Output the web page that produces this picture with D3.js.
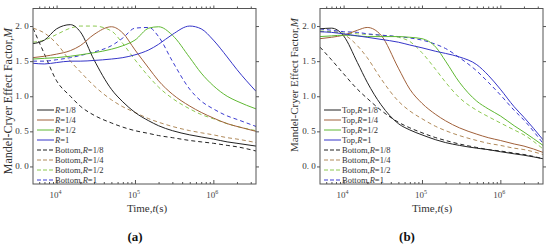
<!DOCTYPE html>
<html>
<head>
<meta charset="utf-8">
<script src="https://cdn.jsdelivr.net/npm/d3@7"></script>
<style>
  body { margin: 0; background: #fff; }
  svg { display: block; font-family: "Liberation Serif", "DejaVu Serif", serif; }
</style>
</head>
<body>
<div id="chart"></div>
<script>
// time points (s) shared by every curve
const times = [5e3, 7e3, 1e4, 1.5e4, 2e4, 3e4, 5e4, 7e4, 1e5, 1.5e5, 2e5, 3e5, 5e5, 7e5, 1e6, 1.5e6, 2e6, 3.5e6];

// panel (a)
const aR8  = [1.75, 1.80, 1.96, 2.02, 1.92, 1.52, 1.10, 0.92, 0.77, 0.65, 0.58, 0.51, 0.45, 0.42, 0.39, 0.35, 0.33, 0.29];
const aR4  = [1.55, 1.57, 1.60, 1.65, 1.72, 1.88, 1.99, 1.90, 1.66, 1.40, 1.22, 1.03, 0.86, 0.77, 0.69, 0.61, 0.57, 0.50];
const aR2  = [1.53, 1.54, 1.55, 1.57, 1.59, 1.62, 1.67, 1.72, 1.80, 1.97, 1.99, 1.87, 1.55, 1.33, 1.15, 1.00, 0.93, 0.82];
const aR1  = [1.47, 1.46, 1.48, 1.50, 1.50, 1.51, 1.53, 1.55, 1.59, 1.66, 1.74, 1.88, 2.00, 1.96, 1.80, 1.56, 1.38, 1.07];
const aB8  = [1.97, 1.60, 1.22, 1.00, 0.86, 0.73, 0.62, 0.56, 0.51, 0.47, 0.44, 0.41, 0.37, 0.35, 0.33, 0.30, 0.28, 0.22];
const aB4  = [1.97, 1.90, 1.75, 1.50, 1.35, 1.15, 0.95, 0.85, 0.77, 0.68, 0.63, 0.57, 0.51, 0.48, 0.45, 0.41, 0.39, 0.34];
const aB2  = [1.77, 1.80, 1.88, 1.97, 2.00, 2.00, 1.93, 1.75, 1.52, 1.28, 1.13, 0.97, 0.82, 0.74, 0.68, 0.61, 0.57, 0.51];
const aB1  = [1.50, 1.50, 1.52, 1.55, 1.58, 1.63, 1.72, 1.83, 1.97, 1.98, 1.85, 1.50, 1.10, 0.93, 0.82, 0.72, 0.67, 0.57];

// panel (b)
const bT8  = [1.96, 1.97, 1.86, 1.48, 1.20, 0.88, 0.61, 0.52, 0.45, 0.38, 0.34, 0.30, 0.26, 0.24, 0.21, 0.18, 0.16, 0.11];
const bT4  = [1.82, 1.84, 1.87, 1.94, 1.98, 1.87, 1.40, 1.10, 0.90, 0.74, 0.65, 0.55, 0.46, 0.41, 0.37, 0.32, 0.29, 0.20];
const bT2  = [1.85, 1.86, 1.87, 1.86, 1.85, 1.85, 1.85, 1.84, 1.82, 1.70, 1.50, 1.20, 0.93, 0.82, 0.72, 0.58, 0.49, 0.30];
const bT1  = [1.92, 1.91, 1.89, 1.86, 1.84, 1.81, 1.77, 1.73, 1.69, 1.64, 1.61, 1.56, 1.45, 1.30, 1.10, 0.85, 0.70, 0.38];
const bB8  = [1.70, 1.52, 1.32, 1.10, 0.97, 0.80, 0.63, 0.55, 0.48, 0.41, 0.37, 0.32, 0.27, 0.24, 0.22, 0.19, 0.17, 0.11];
const bB4  = [1.92, 1.92, 1.88, 1.72, 1.55, 1.25, 0.93, 0.79, 0.68, 0.57, 0.51, 0.44, 0.37, 0.33, 0.30, 0.26, 0.24, 0.17];
const bB2  = [1.93, 1.92, 1.90, 1.89, 1.88, 1.87, 1.84, 1.78, 1.62, 1.38, 1.20, 0.98, 0.80, 0.71, 0.62, 0.52, 0.45, 0.25];
const bB1  = [1.96, 1.94, 1.92, 1.91, 1.89, 1.87, 1.85, 1.83, 1.80, 1.74, 1.68, 1.55, 1.36, 1.20, 1.02, 0.80, 0.66, 0.33];

const rLabels = ["1/8", "1/4", "1/2", "1"];
const colors = ["#222222", "#a0603a", "#5fb832", "#3535c8"];
const dashColors = ["#222222", "#b08a5a", "#8cc850", "#3a3ad0"];
const yTicks = [0, 0.5, 1, 1.5, 2];
const yTickLabels = ["0. 0", "0. 5", "1. 0", "1. 5", "2. 0"];
const xMajor = [1e4, 1e5, 1e6];

const W = 550, H = 246;
const svg = d3.select("#chart").append("svg").attr("width", W).attr("height", H);
svg.append("rect").attr("width", W).attr("height", H).attr("fill", "#fff");

const panels = [
  { left: 33, right: 256, tag: "(a)", tagX: 135, yLabX: 12, yLabY: 101, yLabSize: 12, xLabX: 147,
    solid: [aR8, aR4, aR2, aR1], dashed: [aB8, aB4, aB2, aB1], prefix: "" },
  { left: 320, right: 543, tag: "(b)", tagX: 407, yLabX: 298, yLabY: 85, yLabSize: 11, xLabX: 432,
    solid: [bT8, bT4, bT2, bT1], dashed: [bB8, bB4, bB2, bB1], prefix: "Top," }
];

const plotTop = 8.5, plotBottom = 184;
const yScale = d3.scaleLinear().domain([-0.25, 2.25]).range([plotBottom, plotTop]);

panels.forEach(p => {
  const x = d3.scaleLog().domain([5000, 3.5e6]).range([p.left, p.right]);
  const y = yScale;
  const g = svg.append("g");

  const clipId = "clip" + p.left;
  g.append("clipPath").attr("id", clipId).append("rect")
    .attr("x", p.left).attr("y", plotTop).attr("width", p.right - p.left).attr("height", plotBottom - plotTop);

  const line = d3.line().x((d, i) => x(times[i])).y(d => y(d)).curve(d3.curveMonotoneX);
  const lines = g.append("g").attr("clip-path", "url(#" + clipId + ")");

  p.dashed.forEach((s, i) => {
    lines.append("path").attr("d", line(s)).attr("fill", "none")
      .attr("stroke", dashColors[i]).attr("stroke-width", 1).attr("stroke-dasharray", "4,3");
  });
  p.solid.forEach((s, i) => {
    lines.append("path").attr("d", line(s)).attr("fill", "none")
      .attr("stroke", colors[i]).attr("stroke-width", 1);
  });

  // minor ticks (log)
  const minor = [];
  [1e3, 1e4, 1e5, 1e6].forEach(dec => {
    for (let k = 2; k <= 9; k++) {
      const v = dec * k;
      if (v > 5000 && v < 3.5e6) minor.push(v);
    }
  });

  const axisColor = "#555";
  const xb = g.append("g").attr("transform", "translate(0," + plotBottom + ")")
    .call(d3.axisTop(x).tickValues(xMajor).tickSize(4).tickFormat(""));
  const xbm = g.append("g").attr("transform", "translate(0," + plotBottom + ")")
    .call(d3.axisTop(x).tickValues(minor).tickSize(2).tickFormat(""));
  const xt = g.append("g").attr("transform", "translate(0," + plotTop + ")")
    .call(d3.axisTop(x).tickValues(xMajor).tickSize(3).tickFormat(""));
  const xtm = g.append("g").attr("transform", "translate(0," + plotTop + ")")
    .call(d3.axisTop(x).tickValues(minor).tickSize(2).tickFormat(""));
  const yl = g.append("g").attr("transform", "translate(" + p.left + ",0)")
    .call(d3.axisLeft(y).tickValues(yTicks).tickSize(3).tickFormat(""));
  const yr = g.append("g").attr("transform", "translate(" + p.right + ",0)")
    .call(d3.axisRight(y).tickValues(yTicks).tickSize(3).tickFormat(""));

  [xb, xbm, xt, xtm, yl, yr].forEach(a => {
    a.select(".domain").remove();
    a.selectAll("line").attr("stroke", axisColor);
  });

  g.append("rect").attr("x", p.left).attr("y", plotTop)
    .attr("width", p.right - p.left).attr("height", plotBottom - plotTop)
    .attr("fill", "none").attr("stroke", axisColor).attr("stroke-width", 1);

  // x tick labels 10^n
  xMajor.forEach(v => {
    const t = g.append("text").attr("x", x(v) - 1).attr("y", plotBottom + 14)
      .attr("text-anchor", "middle").attr("font-size", 9).attr("fill", "#444");
    t.append("tspan").text("10");
    t.append("tspan").attr("dy", -4).attr("font-size", 6).text(String(Math.round(Math.log10(v))));
  });

  // axis titles
  const xl = g.append("text").attr("x", p.xLabX).attr("y", plotBottom + 28)
    .attr("text-anchor", "middle").attr("font-size", 11).attr("fill", "#333");
  xl.append("tspan").text("Time,");
  xl.append("tspan").attr("font-style", "italic").text("t");
  xl.append("tspan").text("(s)");

  const ylab = g.append("text")
    .attr("transform", "translate(" + p.yLabX + "," + p.yLabY + ") rotate(-90)")
    .attr("text-anchor", "middle").attr("font-size", p.yLabSize).attr("fill", "#333");
  ylab.append("tspan").text("Mandel-Cryer Effect Factor,");
  ylab.append("tspan").attr("font-style", "italic").text("M");

  g.append("text").attr("x", p.tagX).attr("y", 241).attr("text-anchor", "middle")
    .attr("font-size", 13).attr("font-weight", "bold").attr("fill", "#111").text(p.tag);

  // y tick labels, centred just left of the axis
  g.append("g").selectAll("text")
    .data(yTicks)
    .join("text")
    .attr("x", p.left - 11)
    .attr("y", d => y(d) + 3)
    .attr("text-anchor", "middle")
    .attr("font-size", 9)
    .attr("fill", "#333")
    .text((d, i) => yTickLabels[i]);

  // legend
  const lg = g.append("g");
  const entries = [];
  rLabels.forEach((r, i) => entries.push({ pre: p.prefix, r: r, color: colors[i], dash: false }));
  rLabels.forEach((r, i) => entries.push({ pre: "Bottom,", r: r, color: dashColors[i], dash: true }));
  entries.forEach((e, i) => {
    const yy = 110 + i * 10;
    lg.append("line").attr("x1", p.left + 4).attr("x2", p.left + 21)
      .attr("y1", yy).attr("y2", yy).attr("stroke", e.color).attr("stroke-width", 1)
      .attr("stroke-dasharray", e.dash ? "4,2" : null);
    const t = lg.append("text").attr("x", p.left + 22).attr("y", yy + 3)
      .attr("font-size", 8.5).attr("fill", "#333");
    if (e.pre) t.append("tspan").text(e.pre);
    t.append("tspan").attr("font-style", "italic").text("R");
    t.append("tspan").text("=" + e.r);
  });
});
</script>
</body>
</html>
